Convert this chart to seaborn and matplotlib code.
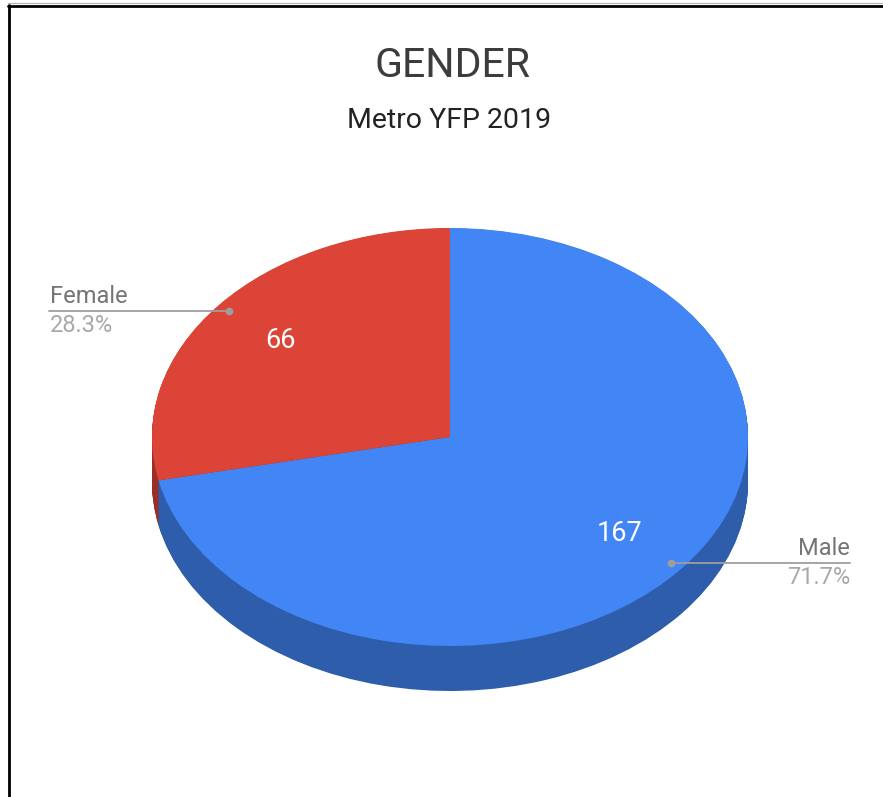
import numpy as np
import seaborn as sns
import matplotlib.pyplot as plt
from matplotlib.colors import to_rgb
from matplotlib.lines import Line2D

# chart data
title = "GENDER"
subtitle = "Metro YFP 2019"
labels = ["Male", "Female"]
counts = [167, 66]
colors = ["#4285F4", "#DB4437"]

sns.set_theme(style="white")
plt.rcParams["font.family"] = ["Roboto", "DejaVu Sans"]

W, H = 883, 797
fig = plt.figure(figsize=(W / 100, H / 100), dpi=100)
fig.patch.set_facecolor("white")


def fx(px):
    return px / W


def fy(py):
    return 1 - py / H


# ellipse of the pie top face, in pixels
cx, cy = 450, 437
rx, ry = 298, 209
depth = 45 / ry
top_pad, bot_pad = 0.05, depth + 0.05

ax = fig.add_axes([fx(cx - rx), fy(cy + ry * (1 + bot_pad)),
                   2 * rx / W, ry * (2 + top_pad + bot_pad) / H])

# side of the 3D pie: stacked darker copies
side_colors = [tuple(c * 0.7 for c in to_rgb(col)) for col in colors]
for off in np.linspace(depth, 0.002, 60):
    ax.pie(counts, colors=side_colors, startangle=90, counterclock=False,
           center=(0, -off), wedgeprops=dict(linewidth=0))

total = sum(counts)
wedges, _, autotexts = ax.pie(
    counts, colors=colors, startangle=90, counterclock=False,
    wedgeprops=dict(linewidth=0),
    autopct=lambda p: f"{p * total / 100:.0f}", pctdistance=0.73,
    textprops=dict(color="white", fontsize=19.5),
)
ax.set_aspect("auto")
ax.set_xlim(-1, 1)
ax.set_ylim(-1 - bot_pad, 1 + top_pad)
ax.axis("off")

# leader lines and outside labels
for w, lab, n in zip(wedges, labels, counts):
    ang = np.deg2rad((w.theta1 + w.theta2) / 2)
    px, py = ax.transData.transform((0.955 * np.cos(ang), 0.955 * np.sin(ang)))
    py_top = H - py
    if px < cx:
        x_end, ha = 49, "left"
    else:
        x_end, ha = 850, "right"
    fig.add_artist(Line2D([fx(px), fx(x_end)], [fy(py_top), fy(py_top)],
                          color="#9e9e9e", lw=1.3, transform=fig.transFigure))
    fig.add_artist(Line2D([fx(px)], [fy(py_top)], marker="o", markersize=4.5,
                          color="#9e9e9e", lw=0, transform=fig.transFigure))
    tx = x_end + (1 if ha == "left" else 0)
    fig.text(fx(tx), fy(py_top - 8), lab, ha=ha, va="baseline",
             fontsize=17, color="#757575")
    fig.text(fx(tx), fy(py_top + 21), f"{n / total * 100:.1f}%", ha=ha,
             va="baseline", fontsize=17, color="#a8a8a8")

fig.text(fx(452), fy(77), title, ha="center", va="baseline",
         fontsize=29.5, color="#3c3c3c")
fig.text(fx(449), fy(128), subtitle, ha="center", va="baseline",
         fontsize=20.5, color="#222222")

# frame lines of the screenshot
fig.add_artist(Line2D([fx(8), 1], [fy(3.0), fy(3.0)], color="#b0b0b0", lw=0.8,
                      transform=fig.transFigure))
fig.add_artist(Line2D([fx(8), 1], [fy(5.5), fy(5.5)], color="black", lw=2.0,
                      transform=fig.transFigure))
fig.add_artist(Line2D([fx(9.3), fx(9.3)], [fy(4.5), 0], color="black", lw=2.0,
                      transform=fig.transFigure))

fig.savefig("out.png", dpi=100)
